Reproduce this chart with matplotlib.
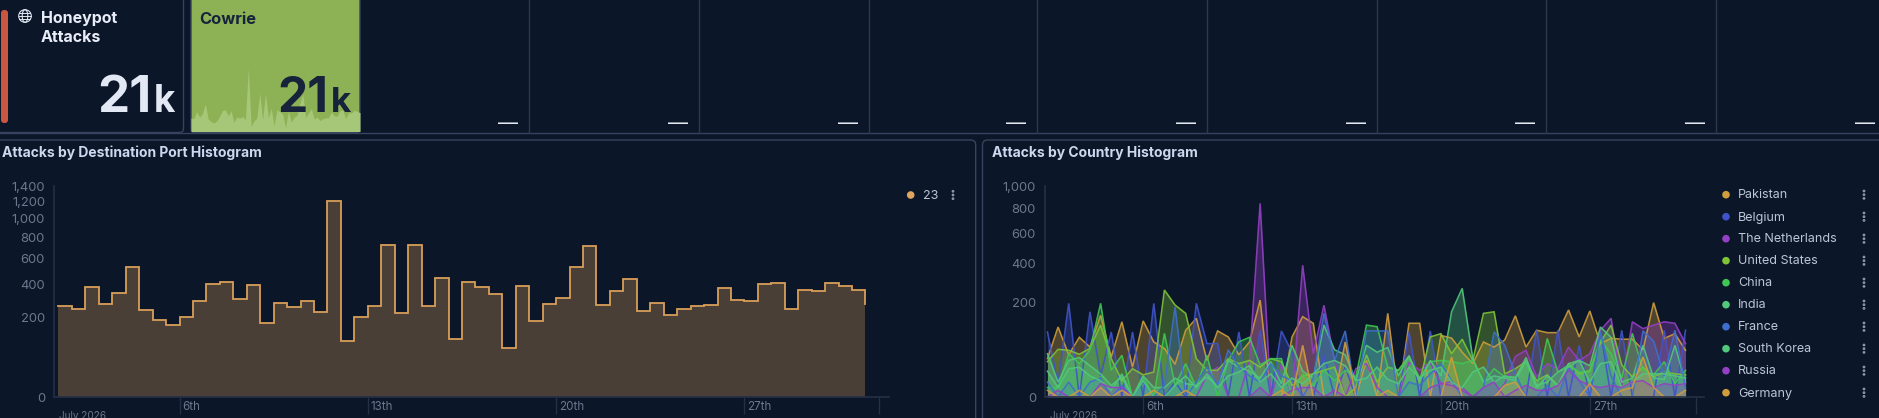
import numpy as np
import pandas as pd
import matplotlib
matplotlib.use("Agg")
import matplotlib.pyplot as plt
import matplotlib.dates as mdates
from matplotlib.patches import FancyBboxPatch, Circle, Ellipse

# ---------- data ----------
tile_total = "21"
tile_unit = "k"
port_label = "23"
port_values = [258, 244, 380, 272, 342, 530, 238, 187, 163, 203, 290, 403, 415, 304, 394, 174, 278, 253, 288, 225,
               1203, 100, 203, 260, 731, 222, 724, 258, 442, 106, 413, 380, 331, 74, 389, 180, 272, 306, 530, 715,
               266, 353, 437, 234, 278, 210, 244, 262, 264, 375, 296, 292, 399, 410, 242, 357, 353, 408, 387, 362, 274]
countries = ["Pakistan", "Belgium", "The Netherlands", "United States", "China",
             "India", "France", "South Korea", "Russia", "Germany"]
country_colors = ["#cf9d3c", "#4054c8", "#9440c4", "#7fc437", "#41c653",
                  "#52c87c", "#3f6fcc", "#52c87c", "#9440c4", "#cf9d3c"]
pakistan = [33, 110, 40, 80, 56, 150, 36, 127, 20, 130, 68, 53, 24, 100, 139, 30, 98, 81, 40, 68,
            211, 0, 0, 81, 145, 122, 0, 0, 0, 0, 30, 0, 157, 0, 122, 122, 0, 85, 78, 45,
            25, 68, 56, 73, 148, 56, 100, 93, 93, 170, 81, 166, 64, 77, 75, 75, 50, 200, 77, 90, 49]
belgium = [95, 4, 197, 0, 163, 10, 95, 0, 95, 0, 197, 0, 5, 0, 197, 64, 64, 0, 95, 0,
           100, 0, 98, 45, 0, 0, 40, 0, 20, 0, 0, 0, 0, 0, 95, 0, 98, 0, 0, 0,
           0, 0, 0, 0, 0, 0, 100, 0, 100, 0, 60, 0, 98, 0, 100, 0, 0, 0, 100, 0, 100]
netherlands = [0, 0, 0, 0, 0, 0, 0, 0, 0, 0, 0, 0, 0, 0, 0, 11, 20, 0, 0, 30,
               842, 0, 25, 0, 390, 42, 189, 30, 0, 18, 25, 2, 0, 0, 27, 16, 26, 4, 5, 2,
               0, 0, 0, 4, 37, 49, 9, 25, 18, 56, 30, 42, 100, 139, 3, 127, 105, 116, 127, 122, 64]
united_states = [28, 51, 49, 41, 53, 116, 33, 6, 18, 11, 14, 257, 190, 157, 33, 16, 16, 33, 25, 30,
                 20, 33, 28, 3, 10, 12, 16, 20, 0, 2, 40, 5, 20, 16, 38, 5, 81, 90, 42, 75,
                 30, 157, 163, 12, 18, 28, 6, 11, 3, 25, 12, 16, 68, 116, 23, 9, 20, 9, 14, 12, 11]
china = [2, 2, 42, 25, 50, 197, 16, 39, 0, 9, 0, 91, 3, 25, 2, 39, 0, 30, 68, 80,
         23, 33, 33, 0, 12, 3, 16, 6, 16, 9, 116, 111, 20, 16, 35, 8, 28, 30, 28, 25,
         30, 5, 18, 9, 9, 28, 2, 77, 14, 23, 14, 14, 73, 42, 8, 91, 16, 11, 28, 4, 16]
india = [42, 5, 30, 35, 22, 12, 3, 9, 0, 10, 2, 2, 8, 4, 3, 9, 3, 30, 20, 15,
         8, 28, 4, 60, 15, 8, 116, 50, 40, 6, 60, 45, 55, 10, 38, 6, 30, 10, 163, 265,
         33, 5, 10, 8, 6, 30, 2, 10, 3, 25, 30, 22, 110, 80, 5, 8, 60, 8, 7, 60, 5]
france = [5, 0, 5, 0, 5, 8, 0, 3, 0, 5, 0, 3, 183, 0, 5, 20, 3, 50, 20, 10,
          5, 25, 10, 6, 0, 8, 157, 30, 98, 0, 98, 98, 98, 0, 5, 3, 12, 25, 6, 0,
          0, 2, 95, 60, 12, 0, 0, 3, 0, 20, 6, 0, 95, 10, 0, 0, 98, 70, 10, 100, 2]
south_korea = [15, 2, 18, 20, 10, 6, 1, 12, 0, 6, 0, 0, 3, 10, 2, 12, 2, 10, 14, 22,
               5, 12, 2, 8, 4, 12, 25, 30, 22, 6, 8, 20, 7, 4, 20, 8, 16, 20, 5, 2,
               14, 20, 5, 10, 8, 35, 3, 5, 14, 20, 30, 5, 25, 28, 2, 5, 12, 12, 12, 10, 8]
russia = [0, 1, 0, 0, 0, 4, 2, 2, 0, 0, 0, 0, 0, 0, 0, 0, 0, 0, 0, 0,
          2, 0, 0, 1, 2, 2, 0, 1, 0, 0, 0, 0, 0, 0, 0, 0, 2, 4, 3, 1,
          0, 2, 5, 0, 1, 3, 1, 1, 3, 16, 6, 3, 2, 3, 2, 5, 6, 2, 4, 3, 4]
germany = [1, 0, 0, 1, 0, 2, 0, 1, 0, 0, 1, 0, 0, 1, 0, 0, 0, 0, 0, 0,
           0, 0, 1, 0, 60, 0, 0, 0, 68, 0, 0, 0, 1, 0, 0, 0, 0, 0, 36, 0,
           0, 0, 0, 3, 5, 0, 0, 0, 0, 0, 0, 4, 0, 0, 1, 2, 36, 2, 0, 0, 1]
country_series = [pakistan, belgium, netherlands, united_states, china,
                  india, france, south_korea, russia, germany]
port_ticks_y = [0, 200, 400, 600, 800, 1000, 1200, 1400]
country_ticks_y = [0, 200, 400, 600, 800, 1000]
date_ticks = ["2026-07-06", "2026-07-13", "2026-07-20", "2026-07-27", "2026-08-01"]
date_labels = ["6th", "13th", "20th", "27th", ""]
month_label = "July 2026"
period_start = "2026-07-01 12:00"

# ---------- style ----------
W, H = 1879, 418
BG = "#0b1628"
BORDER = "#36435e"
AXIS = "#252f45"
TICK = "#6d788f"
TITLE = "#cdd8ef"
LEGEND = "#bcc5d6"
FONT = ["Inter", "DejaVu Sans"]
plt.rcParams["font.family"] = FONT
px = 0.72  # font points per pixel at dpi 100

fig = plt.figure(figsize=(W / 100, H / 100), dpi=100, facecolor=BG)


def axes_px(left, top, right, bottom, **kw):
    return fig.add_axes([left / W, 1 - bottom / H, (right - left) / W, (bottom - top) / H], **kw)


chrome = axes_px(0, 0, W, H, zorder=0)
chrome.set_xlim(0, W)
chrome.set_ylim(H, 0)
chrome.axis("off")
top = axes_px(0, 0, W, H, zorder=5)
top.set_xlim(0, W)
top.set_ylim(H, 0)
top.axis("off")
top.patch.set_alpha(0)

# tiles
chrome.plot([0, W], [132.5, 132.5], color=BORDER, lw=1)
chrome.add_patch(FancyBboxPatch((-6, -6), 189.5, 138.5, boxstyle="round,pad=0,rounding_size=4",
                                fc=BG, ec=BORDER, lw=1))
chrome.add_patch(FancyBboxPatch((1, 10), 7, 113, boxstyle="round,pad=0,rounding_size=3",
                                fc="#cb5640", ec="none"))
chrome.add_patch(FancyBboxPatch((191, -6), 169, 138.5, boxstyle="round,pad=0,rounding_size=3",
                                fc="#8db255", ec=BORDER, lw=1))
for sep in [529.5, 698.6, 868.6, 1037.5, 1206.7, 1376.6, 1545.6, 1716.0]:
    chrome.plot([sep, sep], [0, 132], color="#2c3850", lw=1)
for edge in [529.5, 698.6, 868.6, 1037.5, 1206.7, 1376.6, 1545.6, 1716.0, 1886.0]:
    top.text(edge - 11, 122, "\u2014", color="#e4e9f2", fontsize=20 * px, ha="right", va="center_baseline")

# globe icon
for patch in [Circle((25, 16), 6.3, fill=False, ec="#dfe6f2", lw=0.8),
              Ellipse((25, 16), 5.6, 12.6, fill=False, ec="#dfe6f2", lw=0.8)]:
    top.add_patch(patch)
for yy, half in [(13, 5.5), (16, 6.3), (19, 5.5)]:
    top.plot([25 - half, 25 + half], [yy, yy], color="#dfe6f2", lw=0.7)

top.text(41, 18, "Honeypot", color="#e8edf8", fontsize=16 * px, fontweight="bold", va="center")
top.text(41, 37, "Attacks", color="#e8edf8", fontsize=16 * px, fontweight="bold", va="center")
top.text(151.5, 112, tile_total, color="#e3e8f5", fontsize=51 * px, fontweight="bold", ha="right", va="baseline")
top.text(175.5, 112, tile_unit, color="#e3e8f5", fontsize=37 * px, fontweight="bold", ha="right", va="baseline")
top.text(199, 19, "Cowrie", color="#16233a", fontsize=16.5 * px, fontweight="bold", va="center")
top.text(328, 112, tile_total, color="#16233a", fontsize=48 * px, fontweight="bold", ha="right", va="baseline")
top.text(351, 112, tile_unit, color="#16233a", fontsize=35 * px, fontweight="bold", ha="right", va="baseline")

# sparkline in the Cowrie tile
dates = pd.date_range(period_start, periods=len(port_values), freq="12h")
spark = axes_px(191, 0, 360, 131.5, zorder=1)
spark.patch.set_alpha(0)
spark.axis("off")
spark.fill_between(dates[:-1], port_values[:-1], 0, color="#a7c778", lw=0)
spark.set_xlim(dates[0], dates[-2])
spark.set_ylim(0, 2520)

# panels
chrome.add_patch(FancyBboxPatch((-8, 140), 983.7, 300, boxstyle="round,pad=0,rounding_size=5",
                                fc=BG, ec=BORDER, lw=1))
chrome.add_patch(FancyBboxPatch((982.5, 140), 950, 300, boxstyle="round,pad=0,rounding_size=5",
                                fc=BG, ec=BORDER, lw=1))
top.text(2, 153, "Attacks by Destination Port Histogram", color=TITLE, fontsize=13.9 * px,
         fontweight="bold", va="center")
top.text(992, 153, "Attacks by Country Histogram", color=TITLE, fontsize=13.9 * px,
         fontweight="bold", va="center")


def sqrt_axes(left, right, day0_px, day_px, ymax, yticks):
    ax = axes_px(left, 186, right, 397, zorder=2)
    ax.patch.set_alpha(0)
    ax.set_yscale("function", functions=(lambda v: np.sqrt(np.maximum(v, 0)), lambda v: np.square(v)))
    ax.set_ylim(0, ymax)
    d0 = mdates.date2num(pd.Timestamp("2026-07-01"))
    ax.set_xlim(d0 + (left - day0_px) / day_px, d0 + (right - day0_px) / day_px)
    ax.set_yticks(yticks)
    ax.set_yticklabels([f"{t:,}" for t in yticks], color=TICK, fontsize=13 * px)
    ax.minorticks_off()
    ax.tick_params(axis="y", length=0, pad=6.5)
    ticks = [mdates.date2num(pd.Timestamp(t)) for t in date_ticks]
    ax.set_xticks(ticks)
    ax.set_xticklabels([])
    ax.tick_params(axis="x", length=12, width=1, color=AXIS)
    for s in ("top", "right"):
        ax.spines[s].set_visible(False)
    for s in ("left", "bottom"):
        ax.spines[s].set_color(AXIS)
        ax.spines[s].set_linewidth(1.2)
    trans = ax.get_xaxis_transform()
    for t, lab in zip(ticks, date_labels):
        ax.annotate(lab, (t, 0), xycoords=trans, xytext=(2.2, -7.2), textcoords="offset points",
                    color=TICK, fontsize=11.6 * px, ha="left", va="center", annotation_clip=False)
    ax.annotate(month_label, (left + 5, 416), xycoords=top.transData, color=TICK,
                fontsize=10 * px, ha="left", va="center", annotation_clip=False)
    return ax


def legend_row(x_dot, x_text, x_menu, y, color, label):
    top.add_patch(Circle((x_dot, y), 3.8, fc=color, ec="none"))
    top.text(x_text, y + 0.8, label, color=LEGEND, fontsize=12.6 * px, va="center")
    for dy in (-3.7, 0, 3.7):
        top.add_patch(Circle((x_menu, y + dy), 1.4, fc="#8c95a8", ec="none"))


# port histogram (step area, 12 h bins)
ax1 = sqrt_axes(54, 889, 45.0, 26.9, 1400, port_ticks_y)
ax1.fill_between(dates, port_values, 0, step="post", color="#d99e58", alpha=0.3, lw=0)
# the last value only closes the line: the fill stops at the final bin edge
ax1.step(dates, port_values, where="post", color="#d99e58", lw=1.3, solid_joinstyle="miter")
legend_row(910.7, 923, 953, 195, "#dfa65f", port_label)

# country histogram (overlapping areas): each fill veils the lines drawn before it
ax2 = sqrt_axes(1045, 1704, 1036.8, 21.27, 1000, country_ticks_y)
for values, color in zip(country_series, country_colors):
    ax2.plot(dates, values, color=color, lw=1.15, alpha=0.9, solid_joinstyle="miter")
    ax2.fill_between(dates, values, 0, color=color, alpha=0.34, lw=0)
for k, (name, color) in enumerate(zip(countries, country_colors)):
    legend_row(1726, 1738, 1864, 194.7 + 22 * k, color, name)

fig.savefig("out.png", dpi=100, facecolor=BG)
